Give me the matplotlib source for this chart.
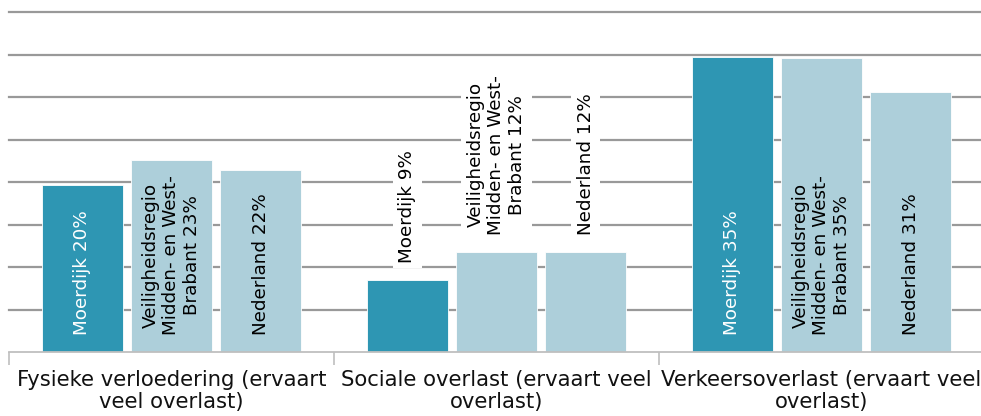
import matplotlib
matplotlib.use("Agg")
import matplotlib.pyplot as plt
import numpy as np

groepen = ["Fysieke verloedering (ervaart\nveel overlast)",
           "Sociale overlast (ervaart veel\noverlast)",
           "Verkeersoverlast (ervaart veel\noverlast)"]
reeksen = ["Moerdijk", "Veiligheidsregio\nMidden- en West-\nBrabant", "Nederland"]
moerdijk = [19.7, 8.5, 34.7]
regio = [22.6, 11.8, 34.6]
nederland = [21.4, 11.8, 30.6]
lbl_moerdijk = [20, 9, 35]
lbl_regio = [23, 12, 35]
lbl_nederland = [22, 12, 31]

C_DONKER = "#2E96B3"
C_LICHT = "#ADCFDA"
FS = 13.2

fig = plt.figure(figsize=(9.81, 4.16), dpi=100)
ax = fig.add_axes([9 / 981, 1 - 352 / 416, 975 / 981, 340 / 416])

x = np.arange(len(groepen))
off = 0.274
w = 0.249
series = [(moerdijk, lbl_moerdijk, C_DONKER, "white"),
          (regio, lbl_regio, C_LICHT, "black"),
          (nederland, lbl_nederland, C_LICHT, "black")]

for k, (vals, lbls, col, tcol) in enumerate(series):
    xs = x + (k - 1) * off
    ax.bar(xs, vals, width=w, color=col, edgecolor="white", lw=0.6, zorder=2)
    naam = reeksen[k]
    for xi, v, p in zip(xs, vals, lbls):
        tekst = f"{naam} {p}%"
        if v < 15:
            # kleine waarden: label boven de staaf, met witte achtergrond
            ax.text(xi, v + 2, tekst, rotation=90, ha="center", va="bottom",
                    multialignment="center", fontsize=FS, color="black",
                    zorder=4,
                    bbox=dict(facecolor="white", edgecolor="none", pad=4))
        else:
            ax.text(xi, 2, tekst, rotation=90, ha="center", va="bottom",
                    multialignment="center", fontsize=FS, color=tcol, zorder=4)

ax.set_xlim(-0.5, 2.5)
ax.set_ylim(0, 40)
ax.set_yticks(np.arange(5, 41, 5))
ax.yaxis.grid(True, color="#999999", lw=1.6, zorder=0)
for gl in ax.get_ygridlines():
    gl.set_clip_on(False)
ax.tick_params(axis="y", length=0, labelleft=False)

ax.set_xticks(x)
ax.set_xticklabels(groepen, fontsize=15.2, color="#111111", linespacing=1.15)
ax.set_xticks([-0.5, 0.5, 1.5, 2.5], minor=True)
ax.tick_params(axis="x", which="major", length=0, pad=13)
ax.tick_params(axis="x", which="minor", length=9, width=1.2, color="#BFBFBF")

for s in ["top", "right", "left"]:
    ax.spines[s].set_visible(False)
ax.spines["bottom"].set_color("#BFBFBF")
ax.spines["bottom"].set_linewidth(1.3)
ax.set_axisbelow(True)

fig.savefig("out.png", dpi=100)
